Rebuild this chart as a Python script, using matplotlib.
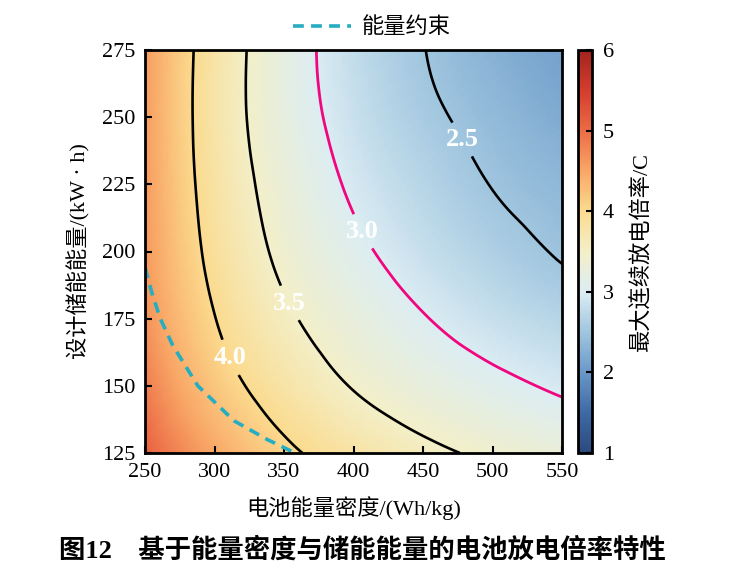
import numpy as np
import matplotlib
matplotlib.use('Agg')
import matplotlib.pyplot as plt
import matplotlib.tri as mtri
from matplotlib.colors import LinearSegmentedColormap
from matplotlib.lines import Line2D

plt.rcParams['font.family'] = ['Liberation Serif', 'Noto Sans CJK SC']
plt.rcParams['axes.unicode_minus'] = False

# battery energy density (Wh/kg) and design storage energy (kW·h)
energy_density = [250, 300, 350, 400, 450, 500, 550]
storage_energy = [125, 150, 175, 200, 225, 250, 275]
# max continuous discharge rate (C), one row per storage_energy value
rate_grid = [
    [5.12, 4.49, 4.08, 3.81, 3.59, 3.43, 3.30],
    [4.85, 4.20, 3.79, 3.48, 3.26, 3.09, 2.95],
    [4.68, 4.01, 3.57, 3.26, 3.02, 2.83, 2.69],
    [4.62, 3.89, 3.41, 3.08, 2.83, 2.63, 2.47],
    [4.60, 3.82, 3.31, 2.95, 2.70, 2.49, 2.35],
    [4.58, 3.78, 3.23, 2.85, 2.58, 2.38, 2.21],
    [4.58, 3.79, 3.21, 2.80, 2.51, 2.28, 2.10],
]
black_levels = [2.5, 3.5, 4.0]
pink_levels = [3.0]

# energy constraint boundary
limit_density = [250, 255, 261, 270, 288, 300, 314, 338, 358]
limit_energy = [194, 184.5, 175, 165, 150, 144, 137, 130, 125]

cbar_colors = ['#2b4a7d', '#3f6aa5', '#6a98c8', '#a0c6df', '#dcedf3', '#f3efc8',
               '#fbdb8f', '#f9a766', '#ec6c46', '#d43d2e', '#a2241f']
cmap = LinearSegmentedColormap.from_list('rate', cbar_colors)

# rate goes roughly like 1/density, so smooth the field in u = -1000/x
X, Y = np.meshgrid(energy_density, storage_energy)
Z = np.array(rate_grid)
nx = len(energy_density)
tris = []
for j in range(len(storage_energy) - 1):
    for i in range(nx - 1):
        k = j * nx + i
        tris.append([k, k + 1, k + nx + 1])
        tris.append([k, k + nx + 1, k + nx])
U = -1000.0 / X.ravel()
tri_u = mtri.Triangulation(U, Y.ravel().astype(float), tris)
interp = mtri.CubicTriInterpolator(tri_u, Z.ravel(), kind='min_E')
tri_uf, z_f = mtri.UniformTriRefiner(tri_u).refine_field(Z.ravel(), triinterpolator=interp, subdiv=4)
tri_f = mtri.Triangulation(-1000.0 / tri_uf.x, tri_uf.y, tri_uf.triangles)

fig = plt.figure(figsize=(7.34, 5.8), dpi=100)
ax = fig.add_axes([145 / 734, 1 - 453 / 580, 417 / 734, 403 / 580])

mesh = ax.tripcolor(tri_f, z_f, shading='gouraud', cmap=cmap, vmin=1, vmax=6, rasterized=True)
cs_k = ax.tricontour(tri_f, z_f, levels=black_levels, colors='k', linewidths=1.9)
cs_m = ax.tricontour(tri_f, z_f, levels=pink_levels, colors='#f0077f', linewidths=2.0)

cyan = '#25adc2'
ax.plot(limit_density, limit_energy, color=cyan, lw=2.6, ls=(0, (3, 2)))

labels = ax.clabel(cs_k, fmt='%.1f', fontsize=19, colors='white', inline=True,
                   inline_spacing=3, manual=[(476, 241), (351, 180), (309, 160)])
labels += ax.clabel(cs_m, fmt='%.1f', fontsize=19, colors='white', inline=True,
                    inline_spacing=3, manual=[(405, 207)])
for t in labels:
    t.set_rotation(0)
    t.set_fontweight('bold')

ax.set_xlim(250, 550)
ax.set_ylim(125, 275)
ax.set_xticks(np.arange(250, 551, 50))
ax.set_yticks(np.arange(125, 276, 25))
ax.tick_params(direction='in', length=5, width=1.5, labelsize=16, pad=7)
for s in ax.spines.values():
    s.set_linewidth(2)
ax.set_xlabel('电池能量密度/(Wh/kg)', fontsize=16, labelpad=10)
ax.set_ylabel('设计储能能量/(kW · h)', fontsize=16, labelpad=8)

cax = fig.add_axes([578 / 734, 1 - 453 / 580, 14 / 734, 403 / 580])
cb = fig.colorbar(mesh, cax=cax, ticks=[1, 2, 3, 4, 5, 6])
cb.outline.set_linewidth(2)
cax.tick_params(direction='in', length=4, width=1.5, labelsize=16, pad=8)
cb.set_label('最大连续放电倍率/C', fontsize=16, labelpad=12)

handle = Line2D([], [], color=cyan, lw=2.6, ls=(0, (3, 2)))
fig.legend([handle], ['能量约束'], loc='center', bbox_to_anchor=(372 / 734, 1 - 28 / 580),
           frameon=False, fontsize=16, handlelength=2.6, handletextpad=0.5)

fig.text(362 / 734, 1 - 550 / 580, '图12\u3000基于能量密度与储能能量的电池放电倍率特性',
         ha='center', va='center', fontsize=19, fontweight='bold')

fig.savefig('out.png', dpi=100)
